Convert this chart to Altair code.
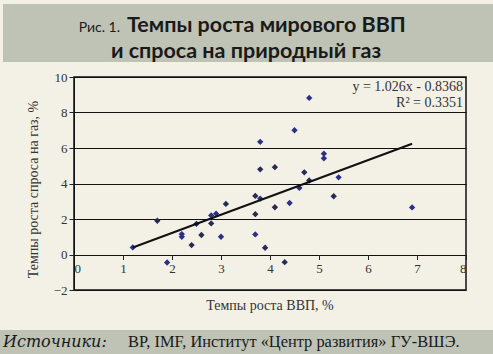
import altair as alt
import pandas as pd

# ---- data ----
gdp_growth = [1.2, 1.7, 1.9, 2.2, 2.2, 2.4, 2.5, 2.6, 2.8, 2.8, 2.9, 3.0, 3.1,
              3.7, 3.7, 3.7, 3.8, 3.8, 3.8, 3.9, 4.1, 4.1, 4.3, 4.4, 4.5,
              4.6, 4.7, 4.8, 4.8, 5.1, 5.1, 5.3, 5.4, 6.9]
gas_growth = [0.4, 1.9, -0.45, 1.15, 1.0, 0.53, 1.73, 1.1, 2.2, 1.75, 2.3, 1.0, 2.85,
              3.3, 2.27, 1.13, 6.35, 4.8, 3.15, 0.38, 4.92, 2.66, -0.43, 2.9, 7.0,
              3.75, 4.63, 8.82, 4.17, 5.68, 5.42, 3.28, 4.35, 2.65]
shade = ["b", "d", "b", "b", "b", "d", "d", "d", "b", "d", "b", "b", "d",
         "d", "d", "b", "b", "d", "b", "d", "d", "d", "d", "b", "b",
         "b", "d", "b", "d", "b", "b", "d", "b", "b"]
slope = 1.026
intercept = -0.8368
equation_text = "y = 1.026x - 0.8368"
r2_text = "R² = 0.3351"
x_ticks = [0, 1, 2, 3, 4, 5, 6, 7, 8]
y_ticks = [-2, 0, 2, 4, 6, 8, 10]

title_prefix = "Рис. 1."
title_line1 = "Темпы роста мирового ВВП"
title_line2 = "и спроса на природный газ"
x_title = "Темпы роста ВВП, %"
y_title = "Темпы роста спроса на газ, %"
source_label = "Источники:"
source_text = "BP, IMF, Институт «Центр развития» ГУ-ВШЭ."

W, H = 392, 213
SERIF = "Liberation Serif"
SANS = "Lato"

pts = pd.DataFrame({"gdp": gdp_growth, "gas": gas_growth, "shade": shade})
line_x = [min(gdp_growth), max(gdp_growth)]
trend = pd.DataFrame({"gdp": line_x})
one = pd.DataFrame({"a": [0]})

xs = alt.Scale(domain=[0, 8], nice=False, zero=False)
ys = alt.Scale(domain=[-2, 10], nice=False, zero=False)

# y=0 position from the top, to place the x axis on the zero line
zero_offset = -(H - H * (10 - 0) / 12)

x_axis = alt.Axis(values=x_ticks, grid=False, domain=False, title=None,
                  offset=zero_offset, tickSize=5, tickColor="#222",
                  labelFlush=True, labelOverlap=False, labelFont=SERIF,
                  labelFontSize=13, labelColor="#333", labelPadding=3)
y_axis = alt.Axis(values=y_ticks, grid=True, gridColor="#111", gridWidth=1,
                  domain=True, domainColor="#111", tickSize=5, tickColor="#222",
                  title=None, labelOverlap=False, labelFont=SERIF,
                  labelFontSize=13, labelColor="#333", labelPadding=2)

points = alt.Chart(pts).mark_point(shape="diamond", filled=True, size=40, opacity=1).encode(
    x=alt.X("gdp:Q", scale=xs, axis=x_axis),
    y=alt.Y("gas:Q", scale=ys, axis=y_axis),
    color=alt.Color("shade:N", scale=alt.Scale(domain=["b", "d"], range=["#2c3088", "#262a55"]),
                    legend=None),
)

trendline = alt.Chart(trend).transform_calculate(
    gas=f"{slope} * datum.gdp + ({intercept})"
).mark_line(color="#111", strokeWidth=2).encode(
    x=alt.X("gdp:Q", scale=xs, axis=x_axis),
    y=alt.Y("gas:Q", scale=ys, axis=y_axis),
)

def txt(text, x, y, **kw):
    return alt.Chart(one).mark_text(text=text, **kw).encode(x=alt.value(x), y=alt.value(y))

eq1 = txt(equation_text, W - 3, 10, align="right", baseline="middle", font=SERIF, fontSize=14, color="#333")
eq2 = txt(r2_text, W - 3, 26, align="right", baseline="middle", font=SERIF, fontSize=14, color="#333")

top_band = alt.Chart(one).mark_rect(color="#bec3b5").encode(
    x=alt.value(-71), x2=alt.value(419), y=alt.value(-73), y2=alt.value(-15))
bottom_band = alt.Chart(one).mark_rect(color="#bec3b5").encode(
    x=alt.value(-74), x2=alt.value(419), y=alt.value(253), y2=alt.value(277))

t_prefix = txt(title_prefix, 46, -45, align="right", baseline="alphabetic", font=SANS,
               fontSize=14, color="#1a1a1a")
t_line1 = txt(title_line1, 53, -45, align="left", baseline="alphabetic", font=SANS,
              fontSize=21.5, fontWeight="bold", color="#1a1a1a")
t_line2 = txt(title_line2, 172, -19, align="center", baseline="alphabetic", font=SANS,
              fontSize=21.5, fontWeight="bold", color="#1a1a1a")

x_t = txt(x_title, W / 2, 229, align="center", baseline="middle", font=SERIF, fontSize=14, color="#333")
y_t = txt(y_title, -40, H / 2 + 6, align="center", baseline="middle", font=SERIF, fontSize=14,
          color="#333", angle=270)

s_label = txt(source_label, -71, 270, align="left", baseline="alphabetic", font="DejaVu Serif",
              fontSize=16, fontStyle="italic", color="#1a1a1a")
s_text = txt(source_text, 54, 270, align="left", baseline="alphabetic", font=SERIF,
             fontSize=16.4, color="#1a1a1a")

chart = alt.layer(
    top_band, bottom_band, points, trendline, eq1, eq2,
    t_prefix, t_line1, t_line2, x_t, y_t, s_label, s_text
).properties(
    width=W, height=H,
    padding={"left": 74, "top": 77, "right": 27, "bottom": 64},
    autosize=alt.AutoSizeParams(type="none"),
    background="#f3f1e6",
).configure_view(
    stroke="#111", strokeWidth=1.5
)

chart.save("out.html", embed_options={"renderer": "svg", "actions": False})
